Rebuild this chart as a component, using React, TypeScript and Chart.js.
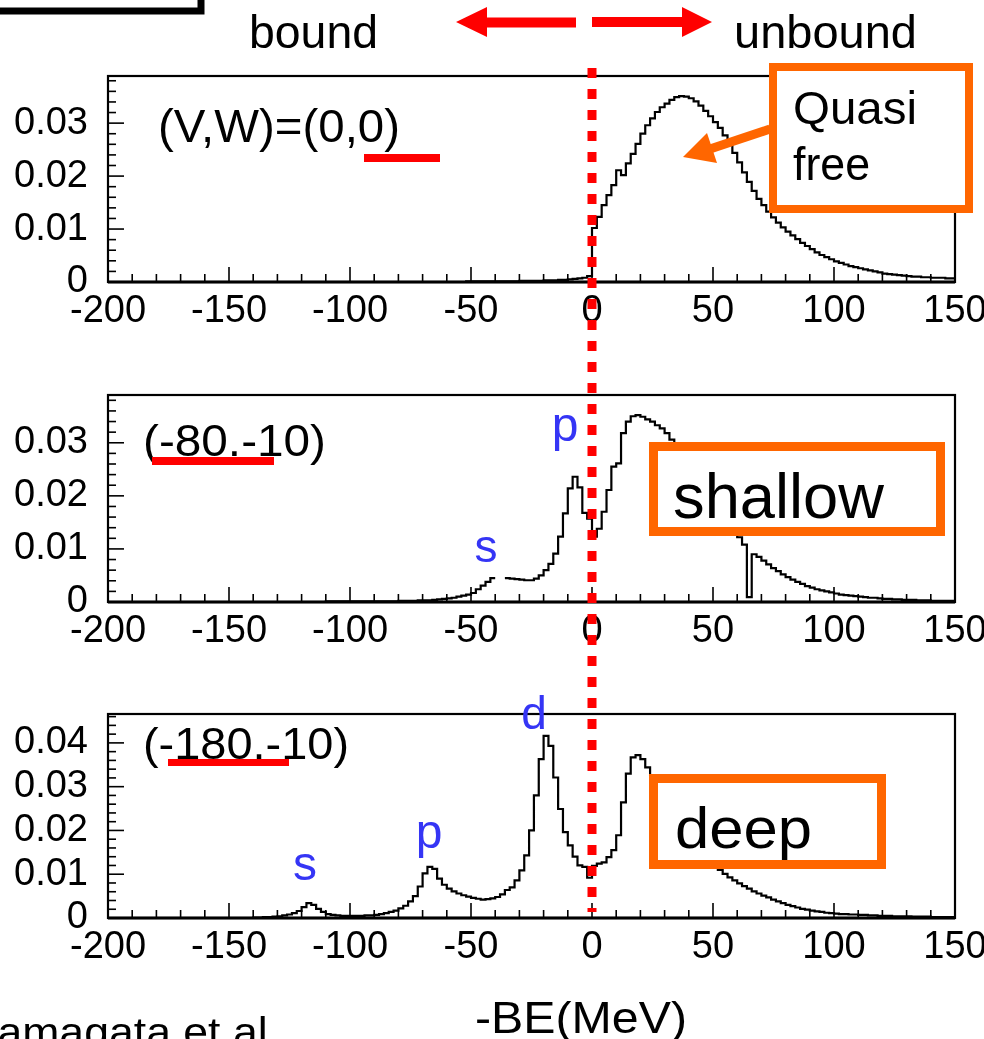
import React, { useEffect, useRef } from "react";
import { Chart, registerables } from "chart.js";

Chart.register(...registerables);

// ---------- data ----------
// Histograms: 2 MeV bins, first bin starts at -200 MeV (175 bins up to 150 MeV)
const BIN_START = -200;
const BIN_WIDTH = 2;
const X_MIN = -200;
const X_MAX = 150;
const X_TICKS = [-200, -150, -100, -50, 0, 50, 100, 150];
const X_MINOR_STEP = 10;
const Y_TICKS_SHORT = [0, 0.01, 0.02, 0.03];
const Y_TICKS_TALL = [0, 0.01, 0.02, 0.03, 0.04];
const Y_MINOR_STEP = 0.002;

// (V,W)=(0,0)  quasi free
const QUASI_FREE = [
  0, 0, 0, 0, 0, 0, 0, 0, 0, 0, // -200
  0, 0, 0, 0, 0, 0, 0, 0, 0, 0, // -180
  0, 0, 0, 0, 0, 0, 0, 0, 0, 0, // -160
  0, 0, 0, 0, 0, 0, 0, 0, 0, 0, // -140
  0, 0, 0, 0, 0, 0, 0, 0, 0, 0, // -120
  0, 0, 0, 0, 0, 0, 0, 0, 0, 0, // -100
  0, 0, 0, 0, 0, 0, 0, 0, 0, 0, // -80
  0, 0, 0, 0, 0.0001, 0.0001, 0.0001, 0.0001, 0.0001, 0.0001, // -60
  0.0001, 0.0001, 0.0001, 0.0001, 0.0001, 0.0002, 0.0002, 0.0002, 0.0002, 0.0002, // -40
  0.0003, 0.0003, 0.0003, 0.0004, 0.0004, 0.0005, 0.0006, 0.0007, 0.0008, 0.0011, // -20
  0.0102, 0.0123, 0.0145, 0.0164, 0.0183, 0.0211, 0.0202, 0.0224, 0.0242, 0.0261, // 0
  0.028, 0.0296, 0.0309, 0.0321, 0.033, 0.0337, 0.0344, 0.0349, 0.0351, 0.035, // 20
  0.0347, 0.0341, 0.0333, 0.0323, 0.0313, 0.0302, 0.0291, 0.0277, 0.0261, 0.0244, // 40
  0.0226, 0.0207, 0.0189, 0.0172, 0.0157, 0.0145, 0.0133, 0.0122, 0.0112, 0.0103, // 60
  0.0095, 0.0088, 0.0081, 0.0074, 0.0068, 0.0062, 0.0056, 0.0051, 0.0047, 0.0043, // 80
  0.0039, 0.0036, 0.0033, 0.003, 0.0028, 0.0026, 0.0024, 0.0022, 0.002, 0.0018, // 100
  0.0016, 0.0015, 0.0014, 0.0013, 0.0012, 0.0011, 0.001, 0.001, 0.0009, 0.0009, // 120
  0.0008, 0.0008, 0.0008, 0.0007, 0.0007, // 140
];

// (-80,-10)  shallow
const SHALLOW = [
  0, 0, 0, 0, 0, 0, 0, 0, 0, 0, // -200
  0, 0, 0, 0, 0, 0, 0, 0, 0, 0, // -180
  0, 0, 0, 0, 0, 0, 0, 0, 0, 0, // -160
  0, 0, 0, 0, 0, 0, 0, 0, 0, 0, // -140
  0, 0, 0, 0, 0, 0.0001, 0.0001, 0.0001, 0.0001, 0.0001, // -120
  0.0001, 0.0001, 0.0001, 0.0001, 0.0001, 0.0001, 0.0001, 0.0001, 0.0001, 0.0001, // -100
  0.0002, 0.0002, 0.0002, 0.0002, 0.0003, 0.0003, 0.0003, 0.0004, 0.0005, 0.0006, // -80
  0.0007, 0.0008, 0.001, 0.0012, 0.0014, 0.0017, 0.0024, 0.0031, 0.0038, 0.0045, // -60
  0.0045, null, 0.0045, 0.0044, 0.0043, 0.0042, 0.0041, 0.0041, 0.0044, 0.005, // -40
  0.006, 0.0072, 0.0091, 0.0123, 0.0167, 0.0214, 0.0236, 0.0216, 0.0168, 0.0157, // -20
  0.0123, 0.0138, 0.017, 0.0211, 0.0255, 0.0261, 0.0318, 0.034, 0.035, 0.0352, // 0
  0.0349, 0.0344, 0.034, 0.0333, 0.0327, 0.0318, 0.0306, 0.0293, 0.028, 0.0266, // 20
  0.0252, 0.0237, 0.0222, 0.0207, 0.0192, 0.0178, 0.0165, 0.0153, 0.0142, 0.0132, // 40
  0.0122, 0.0108, 0.0009, 0.009, 0.0085, 0.0078, 0.0071, 0.0064, 0.0058, 0.0052, // 60
  0.0047, 0.0042, 0.0038, 0.0034, 0.003, 0.0027, 0.0024, 0.0022, 0.002, 0.0018, // 80
  0.0016, 0.0014, 0.0013, 0.0012, 0.0011, 0.001, 0.0009, 0.0008, 0.0008, 0.0007, // 100
  0.0006, 0.0006, 0.0005, 0.0005, 0.0004, 0.0004, 0.0004, 0.0003, 0.0003, 0.0003, // 120
  0.0002, 0.0002, 0.0002, 0.0002, 0.0002, // 140
];

// (-180,-10)  deep
const DEEP = [
  0, 0, 0, 0, 0, 0, 0, 0, 0, 0, // -200
  0, 0, 0, 0, 0, 0, 0, 0, 0, 0, // -180
  0, 0, 0, 0, 0, 0, 0, 0, 0, 0, // -160
  0.0001, 0.0001, 0.0002, 0.0002, 0.0003, 0.0004, 0.0006, 0.0008, 0.0011, 0.0016, // -140
  0.0025, 0.0034, 0.003, 0.0021, 0.0014, 0.0009, 0.0007, 0.0006, 0.0005, 0.0005, // -120
  0.0005, 0.0005, 0.0005, 0.0006, 0.0006, 0.0007, 0.0009, 0.0011, 0.0014, 0.0017, // -100
  0.0022, 0.0028, 0.0038, 0.005, 0.0072, 0.0102, 0.0117, 0.0112, 0.009, 0.0076, // -80
  0.0067, 0.0061, 0.0056, 0.0052, 0.0049, 0.0046, 0.0044, 0.0042, 0.0043, 0.0045, // -60
  0.0048, 0.0054, 0.0064, 0.007, 0.0086, 0.0109, 0.0143, 0.02, 0.028, 0.0363, // -40
  0.0416, 0.0393, 0.0321, 0.0249, 0.0196, 0.0166, 0.014, 0.012, 0.0117, 0.0092, // -20
  0.0119, 0.0124, 0.0127, 0.0139, 0.0155, 0.0189, 0.0264, 0.033, 0.0367, 0.0372, // 0
  0.0363, 0.0344, 0.0322, 0.03, 0.0279, 0.026, 0.0242, 0.0225, 0.021, 0.0195, // 20
  0.0181, 0.0168, 0.0155, 0.0143, 0.0131, 0.012, 0.011, 0.0101, 0.0093, 0.0086, // 40
  0.0079, 0.0073, 0.0067, 0.0061, 0.0056, 0.0051, 0.0047, 0.0042, 0.0038, 0.0034, // 60
  0.003, 0.0027, 0.0024, 0.0021, 0.0019, 0.0017, 0.0015, 0.0014, 0.0012, 0.0011, // 80
  0.001, 0.0009, 0.0009, 0.0008, 0.0008, 0.0007, 0.0007, 0.0006, 0.0006, 0.0005, // 100
  0.0005, 0.0005, 0.0004, 0.0004, 0.0004, 0.0004, 0.0003, 0.0003, 0.0003, 0.0003, // 120
  0.0002, 0.0002, 0.0002, 0.0002, 0.0002, // 140
];

// ---------- layout / style ----------
const W = 984;
const H = 1039;
const FONT = "'Liberation Sans', Arial, Helvetica, sans-serif";
const RED = "#ff0000";
const ORANGE = "#ff6600";
const BLUE = "#3535f5";
const ZERO_LINE_TOP = 68;
const ZERO_LINE_BOTTOM = 912;

type PanelCfg = {
  values: (number | null)[];
  yMax: number;
  yTicks: number[];
  canvasTop: number;
  canvasHeight: number;
  areaTop: number;
  areaBottom: number;
};

const PANELS: PanelCfg[] = [
  { values: QUASI_FREE, yMax: 0.0389, yTicks: Y_TICKS_SHORT, canvasTop: 0, canvasHeight: 345, areaTop: 76, areaBottom: 282 },
  { values: SHALLOW, yMax: 0.039, yTicks: Y_TICKS_SHORT, canvasTop: 345, canvasHeight: 320, areaTop: 395, areaBottom: 602 },
  { values: DEEP, yMax: 0.0466, yTicks: Y_TICKS_TALL, canvasTop: 665, canvasHeight: 320, areaTop: 714, areaBottom: 918 },
];

function histPoints(values: (number | null)[]) {
  const pts = values.map((v, i) => ({ x: BIN_START + i * BIN_WIDTH, y: v }));
  pts.push({ x: BIN_START + values.length * BIN_WIDTH, y: values[values.length - 1] });
  return pts;
}

function Panel({ cfg }: { cfg: PanelCfg }) {
  const ref = useRef<HTMLCanvasElement>(null);
  useEffect(() => {
    const canvas = ref.current!;
    const top = cfg.areaTop - cfg.canvasTop;
    const xAxisH = cfg.canvasHeight - (cfg.areaBottom - cfg.canvasTop);
    const framePlugin = {
      id: "frameTicks",
      afterDraw(chart: any) {
        const { ctx, chartArea } = chart;
        const { left, right, bottom } = chartArea;
        const tp = chartArea.top;
        const xs = chart.scales.x;
        const ys = chart.scales.y;
        ctx.save();
        ctx.strokeStyle = "#000";
        ctx.lineWidth = 1.6;
        // x ticks (inside)
        for (let v = X_MIN; v <= X_MAX; v += X_MINOR_STEP) {
          const px = xs.getPixelForValue(v);
          const major = X_TICKS.includes(v);
          ctx.beginPath();
          ctx.moveTo(px, bottom);
          ctx.lineTo(px, bottom - (major ? 15 : 8));
          ctx.stroke();
        }
        // y ticks (inside)
        for (let i = 0; i * Y_MINOR_STEP <= cfg.yMax; i++) {
          const py = ys.getPixelForValue(i * Y_MINOR_STEP);
          const major = i % 5 === 0;
          ctx.beginPath();
          ctx.moveTo(left, py);
          ctx.lineTo(left + (major ? 16 : 8), py);
          ctx.stroke();
        }
        // frame
        ctx.lineWidth = 2.2;
        ctx.strokeRect(left, tp, right - left, bottom - tp);
        ctx.lineWidth = 3;
        ctx.beginPath();
        ctx.moveTo(left, bottom);
        ctx.lineTo(right, bottom);
        ctx.stroke();
        // red dotted line at 0
        const x0 = xs.getPixelForValue(0);
        ctx.strokeStyle = RED;
        ctx.lineWidth = 9;
        ctx.setLineDash([10, 11]);
        ctx.beginPath();
        ctx.moveTo(x0, ZERO_LINE_TOP - cfg.canvasTop);
        ctx.lineTo(x0, ZERO_LINE_BOTTOM - cfg.canvasTop);
        ctx.stroke();
        ctx.restore();
      },
    };
    const tickFont = { family: FONT, size: 38 };
    const chart = new Chart(canvas, {
      type: "line",
      data: {
        datasets: [
          {
            data: histPoints(cfg.values) as any,
            stepped: true,
            borderColor: "#000",
            borderWidth: 2.2,
            pointRadius: 0,
            fill: false,
            spanGaps: false,
            tension: 0,
          },
        ],
      },
      options: {
        animation: false,
        responsive: false,
        maintainAspectRatio: false,
        events: [],
        layout: { padding: { left: 0, right: W - 955, top, bottom: 0 } },
        plugins: { legend: { display: false }, tooltip: { enabled: false } },
        scales: {
          x: {
            type: "linear",
            min: X_MIN,
            max: X_MAX,
            grid: { display: false, drawTicks: false },
            border: { display: false },
            afterBuildTicks: (s: any) => {
              s.ticks = X_TICKS.map((v) => ({ value: v }));
            },
            afterFit: (s: any) => {
              s.height = xAxisH;
              s.paddingLeft = 0;
              s.paddingRight = 0;
            },
            ticks: {
              font: tickFont,
              color: "#000",
              padding: 7,
              maxRotation: 0,
              autoSkip: false,
              callback: (v: any) => String(v),
            },
          },
          y: {
            type: "linear",
            min: 0,
            max: cfg.yMax,
            grid: { display: false, drawTicks: false },
            border: { display: false },
            afterBuildTicks: (s: any) => {
              s.ticks = cfg.yTicks.map((v) => ({ value: v }));
            },
            afterFit: (s: any) => {
              s.width = 108;
              s.paddingTop = 0;
              s.paddingBottom = 0;
            },
            ticks: {
              font: tickFont,
              color: "#000",
              padding: 20,
              autoSkip: false,
              callback: (v: any) => (v === 0 ? "0" : Number(v).toFixed(2)),
            },
          },
        },
      },
      plugins: [framePlugin],
    } as any);
    return () => chart.destroy();
  }, [cfg]);
  return (
    <canvas
      ref={ref}
      width={W}
      height={cfg.canvasHeight}
      style={{ position: "absolute", left: 0, top: cfg.canvasTop, width: W, height: cfg.canvasHeight }}
    />
  );
}

function T(props: any) {
  const { children, fill = "#000", anchor, len, ...rest } = props;
  return (
    <text
      fontFamily={FONT}
      fill={fill}
      textAnchor={anchor || "start"}
      {...(len ? { textLength: len, lengthAdjust: "spacingAndGlyphs" } : {})}
      {...rest}
    >
      {children}
    </text>
  );
}

export default function App() {
  return (
    <div
      style={{
        position: "absolute",
        left: 0,
        top: 0,
        width: W,
        height: H,
        overflow: "hidden",
        background: "#fff",
      }}
    >
      {PANELS.map((p, i) => (
        <Panel key={i} cfg={p} />
      ))}
      <svg
        width={W}
        height={H}
        style={{ position: "absolute", left: 0, top: 0, pointerEvents: "none" }}
      >
        {/* partially visible black box top-left */}
        <rect x={-20} y={-20} width={221} height={31} fill="#fff" stroke="#000" strokeWidth={7} />
        {/* bound / unbound */}
        <T x={249} y={48} fontSize={47} len={129}>bound</T>
        <T x={734} y={48} fontSize={47} len={183}>unbound</T>
        <polygon points="456,22 487,7 487,17.5 576,17.5 576,27.5 487,27.5 487,37" fill={RED} />
        <polygon points="712,22 682,7 682,17 592,17 592,27 682,27 682,37" fill={RED} />

        {/* panel 1 annotations */}
        <T x={158} y={142} fontSize={47} len={242}>(V,W)=(0,0)</T>
        <rect x={364} y={154} width={76} height={8} fill={RED} />
        <rect x={773} y={67} width={196} height={142} fill="#fff" stroke={ORANGE} strokeWidth={8} />
        <T x={793} y={124} fontSize={46} len={124}>Quasi</T>
        <T x={793} y={180} fontSize={46} len={77}>free</T>
        <line x1={770} y1={129} x2={710} y2={149} stroke={ORANGE} strokeWidth={9} />
        <polygon points="683,157 707,133 717,163" fill={ORANGE} />

        {/* panel 2 annotations */}
        <T x={143} y={456} fontSize={44} len={183}>(-80.-10)</T>
        <rect x={152} y={457} width={122} height={8} fill={RED} />
        <T x={565} y={441} fontSize={48} anchor="middle" fill={BLUE}>p</T>
        <T x={486} y={562} fontSize={46} anchor="middle" fill={BLUE}>s</T>
        <rect x={653.5} y={446.5} width={287} height={85} fill="#fff" stroke={ORANGE} strokeWidth={9} />
        <T x={673} y={518} fontSize={63} len={211}>shallow</T>

        {/* panel 3 annotations */}
        <T x={143} y={759} fontSize={44} len={206}>(-180.-10)</T>
        <rect x={168} y={759} width={121} height={7} fill={RED} />
        <T x={534} y={729} fontSize={46} anchor="middle" fill={BLUE}>d</T>
        <T x={429} y={848} fontSize={48} anchor="middle" fill={BLUE}>p</T>
        <T x={305} y={880} fontSize={48} anchor="middle" fill={BLUE}>s</T>
        <rect x={653.5} y={778.5} width={228} height={86} fill="#fff" stroke={ORANGE} strokeWidth={9} />
        <T x={675} y={848} fontSize={58} len={137}>deep</T>

        {/* axis title and citation */}
        <T x={475} y={1033} fontSize={44} len={212}>-BE(MeV)</T>
        <T x={-29} y={1046} fontSize={40} len={309}>Yamagata et al.</T>
      </svg>
    </div>
  );
}
